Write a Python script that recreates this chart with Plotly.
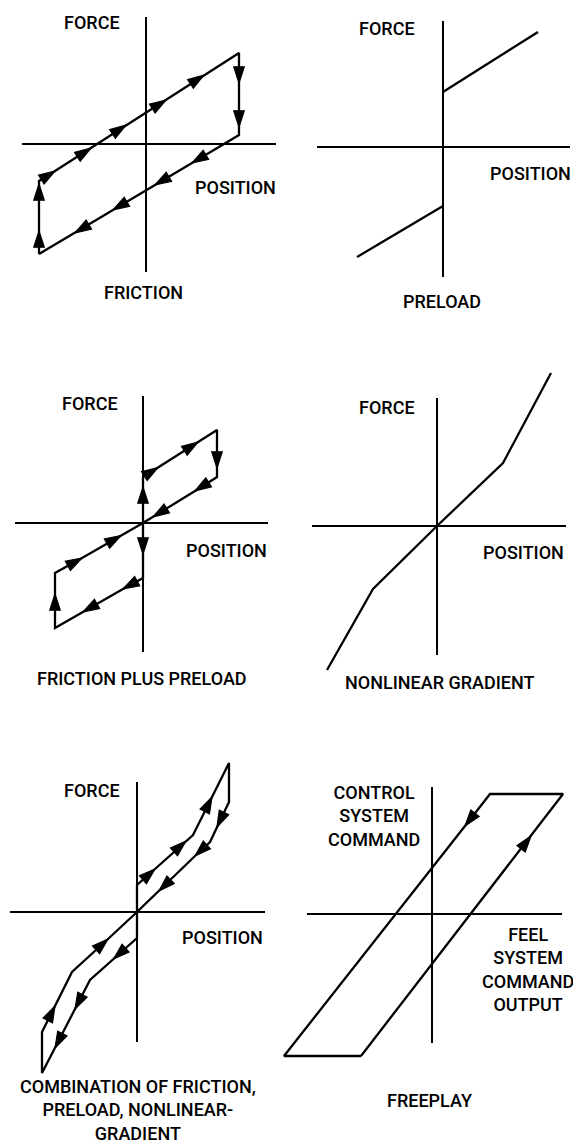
import plotly.graph_objects as go

W, H = 581, 1146
OFF = 8  # browser page margin around the plot div

# ---------------- data (force vs position, arbitrary units, origin at axis crossing) ----------------
# Panel 1: FRICTION
FRIC_X = [-107, -107, -107, -107, -91, -55, -20, 20, 58, 93, 93, 93, 93, 46, 9, -33, -71, -107]
FRIC_Y = [-110, -87, -40, -37, -27, -4, 19, 44, 69, 91, 61, 17, 9, -19, -41, -66, -89, -110]
FRIC_ARROW = [0, 1, 1, 0, 1, 1, 1, 1, 1, 0, 1, 1, 0, 1, 1, 1, 1, 0]
FRIC_HAXIS = [-124, 130]
FRIC_VAXIS = [-128, 127]

# Panel 2: PRELOAD
PRE_UP_X = [0, 95]
PRE_UP_Y = [55, 115]
PRE_LO_X = [-86, 0]
PRE_LO_Y = [-110, -59]
PRE_HAXIS = [-126, 127]
PRE_VAXIS = [-130, 126]

# Panel 3: FRICTION PLUS PRELOAD
FPP_X = [0, 0, 0, 15, 55, 74, 74, 74, 52, 10, 0, 0, 0, -20, -60, -88, -88, -88, -61, -22, 0]
FPP_Y = [0, 36, 46, 55.5, 81, 93, 55, 46, 32, 6, 0, -31, -55, -66, -89, -105, -71, -50, -35, -12.5, 0]
FPP_ARROW = [0, 1, 0, 1, 1, 0, 1, 0, 1, 1, 0, 1, 0, 1, 1, 0, 1, 0, 1, 1, 0]
FPP_HAXIS = [-128, 125]
FPP_VAXIS = [-129, 127]

# Panel 4: NONLINEAR GRADIENT
NL_X = [-110, -64, 0, 66, 114]
NL_Y = [-144, -63, 0, 63, 153]
NL_HAXIS = [-125, 129]
NL_VAXIS = [-129, 128]

# Panel 5: COMBINATION
COMB_X = [0, 0, 18, 49, 56, 75, 92, 92, 80, 73, 58, 22, 0, 0, -23.5, -47, -62, -82, -95, -95, -82, -65, -29, 0]
COMB_Y = [0, 27, 43, 71, 77, 115, 149, 110, 85, 70, 56, 21, 0, -26, -47, -68, -97, -136, -161, -120, -94, -60, -27, 0]
COMB_ARROW = [0, 0, 1, 1, 0, 1, 0, 0, 1, 0, 1, 1, 0, 0, 1, 0, 1, 1, 0, 0, 1, 0, 1, 0]
COMB_HAXIS = [-127, 128]
COMB_VAXIS = [-130, 130]

# Panel 6: FREEPLAY
FP_X = [-71, 99, 131, 58, 33, -148, -71]
FP_Y = [-142, 78, 120, 120, 88, -142, -142]
FP_ARROW = [0, 1, 0, 0, 1, 0, 0]
FP_HAXIS = [-125, 130]
FP_VAXIS = [-129, 127]

# Labels: (text, x, y) in each panel's units
LABELS = [
    [("FORCE", -54, 122), ("POSITION", 89, -43), ("FRICTION", -3, -148)],
    [("FORCE", -56, 119), ("POSITION", 87, -26), ("PRELOAD", -1, -154)],
    [("FORCE", -53, 120), ("POSITION", 83, -27), ("FRICTION PLUS PRELOAD", -1, -155)],
    [("FORCE", -50, 119), ("POSITION", 86, -26), ("NONLINEAR GRADIENT", 2, -156)],
    [("FORCE", -45, 122), ("POSITION", 85, -25),
     ("COMBINATION OF FRICTION,<br>PRELOAD, NONLINEAR-<br>GRADIENT", 1, -198)],
    [("CONTROL<br>SYSTEM<br>COMMAND", -58, 98), ("FEEL<br>SYSTEM<br>COMMAND<br>OUTPUT", 96, -55),
     ("FREEPLAY", -3, -186)],
]

# ---------------- layout: panel cells (px) and axis-origin placement (px, page coords) ----------------
CELLS = [
    (0, 280, 0, 340), (280, 581, 0, 340),
    (0, 280, 340, 720), (280, 581, 340, 720),
    (0, 280, 720, 1146), (280, 581, 720, 1146),
]
ORIGINS = [(146, 144), (443, 147), (143, 523), (437, 526), (137, 912), (432, 914)]

# figure size: the page adds an 8px body margin on the left/top
FW, FH = W - 2 * OFF, H - OFF

FONT = dict(family="Roboto, Liberation Sans, Arial, sans-serif", size=18, color="black", weight=500)
LW = 2.3
AXW = 2
ARROW_SIZE = 17

fig = go.Figure()


def axref(i):
    return ("x" if i == 0 else f"x{i+1}", "y" if i == 0 else f"y{i+1}")


def add_axes(i, hx, vy):
    xr, yr = axref(i)
    fig.add_trace(go.Scatter(x=hx, y=[0, 0], mode="lines", line=dict(color="black", width=AXW),
                             xaxis=xr, yaxis=yr, hoverinfo="skip"))
    fig.add_trace(go.Scatter(x=[0, 0], y=vy, mode="lines", line=dict(color="black", width=AXW),
                             xaxis=xr, yaxis=yr, hoverinfo="skip"))


def add_path(i, xs, ys, arrows=None):
    xr, yr = axref(i)
    if arrows is None:
        fig.add_trace(go.Scatter(x=xs, y=ys, mode="lines", line=dict(color="black", width=LW),
                                 xaxis=xr, yaxis=yr, hoverinfo="skip"))
    else:
        fig.add_trace(go.Scatter(
            x=xs, y=ys, mode="lines+markers",
            line=dict(color="black", width=LW, backoff=0),
            marker=dict(symbol="arrow", angleref="previous", color="black", opacity=1,
                        size=[ARROW_SIZE if a else 0 for a in arrows],
                        line=dict(width=1.2, color="black")),
            cliponaxis=False, xaxis=xr, yaxis=yr, hoverinfo="skip"))


add_axes(0, FRIC_HAXIS, FRIC_VAXIS)
add_path(0, FRIC_X, FRIC_Y, FRIC_ARROW)

add_axes(1, PRE_HAXIS, PRE_VAXIS)
add_path(1, PRE_UP_X, PRE_UP_Y)
add_path(1, PRE_LO_X, PRE_LO_Y)

add_axes(2, FPP_HAXIS, FPP_VAXIS)
add_path(2, FPP_X, FPP_Y, FPP_ARROW)

add_axes(3, NL_HAXIS, NL_VAXIS)
add_path(3, NL_X, NL_Y)

add_axes(4, COMB_HAXIS, COMB_VAXIS)
add_path(4, COMB_X, COMB_Y, COMB_ARROW)

add_axes(5, FP_HAXIS, FP_VAXIS)
add_path(5, FP_X, FP_Y, FP_ARROW)

layout = dict(width=FW, height=FH, margin=dict(l=0, r=0, t=0, b=0),
              paper_bgcolor="white", plot_bgcolor="rgba(0,0,0,0)", showlegend=False)
annotations = []
for i, ((x0, x1, y0, y1), (ox, oy)) in enumerate(zip(CELLS, ORIGINS)):
    # convert page px to figure px
    x0f, x1f = max(x0 - OFF, 0), min(x1 - OFF, FW)
    y0f, y1f = max(y0 - OFF, 0), min(y1 - OFF, FH)
    oxf, oyf = ox - OFF, oy - OFF
    xk = "xaxis" if i == 0 else f"xaxis{i+1}"
    yk = "yaxis" if i == 0 else f"yaxis{i+1}"
    xr, yr = axref(i)
    layout[xk] = dict(domain=[x0f / FW, x1f / FW], range=[x0f - oxf, x1f - oxf], visible=False,
                      anchor=yr, fixedrange=True)
    layout[yk] = dict(domain=[1 - y1f / FH, 1 - y0f / FH], range=[oyf - y1f, oyf - y0f], visible=False,
                      anchor=xr, fixedrange=True)
    for text, tx, ty in LABELS[i]:
        annotations.append(dict(text=text, x=tx, y=ty, xref=xr, yref=yr, showarrow=False,
                                xanchor="center", yanchor="middle", font=FONT, align="center"))
layout["annotations"] = annotations
fig.update_layout(**layout)

fig.write_html("out.html")
